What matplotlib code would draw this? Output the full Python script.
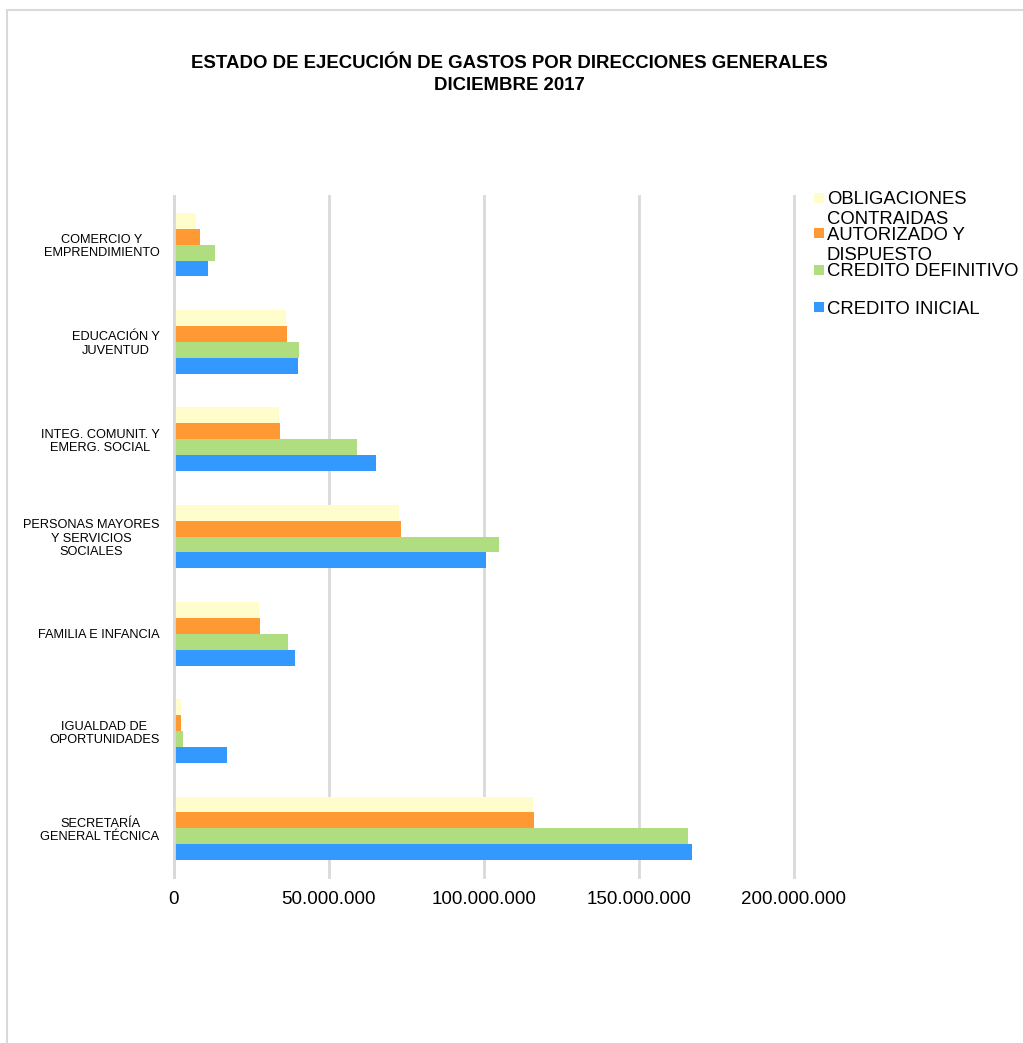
import matplotlib
matplotlib.use("Agg")
import matplotlib.pyplot as plt
from matplotlib.patches import Rectangle
from matplotlib.ticker import FuncFormatter, MultipleLocator
import numpy as np

plt.rcParams['font.family'] = ['Liberation Sans', 'DejaVu Sans']

# Direcciones generales (de abajo a arriba)
categorias = [
    "SECRETARÍA\nGENERAL TÉCNICA",
    "IGUALDAD DE\nOPORTUNIDADES",
    "FAMILIA E INFANCIA",
    "PERSONAS MAYORES\nY SERVICIOS\nSOCIALES",
    "INTEG. COMUNIT. Y\nEMERG. SOCIAL",
    "EDUCACIÓN Y\nJUVENTUD",
    "COMERCIO Y\nEMPRENDIMIENTO",
]

# Importes en euros
credito_inicial = [167.1e6, 17.3e6, 39.1e6, 100.6e6, 65.4e6, 40.2e6, 11.0e6]
credito_definitivo = [165.9e6, 3.0e6, 36.9e6, 104.9e6, 59.1e6, 40.4e6, 13.4e6]
autorizado_dispuesto = [116.1e6, 2.5e6, 27.9e6, 73.4e6, 34.3e6, 36.5e6, 8.4e6]
obligaciones_contraidas = [116.0e6, 2.5e6, 27.6e6, 72.7e6, 33.9e6, 36.3e6, 7.3e6]

series_nombres = ["CREDITO INICIAL", "CREDITO DEFINITIVO",
                  "AUTORIZADO Y\nDISPUESTO", "OBLIGACIONES\nCONTRAIDAS"]
series_valores = [credito_inicial, credito_definitivo,
                  autorizado_dispuesto, obligaciones_contraidas]
series_colores = ["#3399FF", "#B0DD80", "#FF9933", "#FFFDCC"]

W, H = 1023, 1043
fig = plt.figure(figsize=(W / 100, H / 100), dpi=100)
fig.patch.set_facecolor("white")

# Marco exterior del gráfico
fig.patches.append(Rectangle((7 / W, -0.05), 1.1, 1 - 10 / H + 0.05,
                             transform=fig.transFigure, fill=False,
                             edgecolor="#D9D9D9", linewidth=1.5))

ax = fig.add_axes([173.5 / W, 1 - 877 / H, (794 - 173.5) / W, (877 - 196) / H])

y = np.arange(len(categorias))
h = 0.163
offsets = [-1.5, -0.5, 0.5, 1.5]
for vals, col, off in zip(series_valores, series_colores, offsets):
    ax.barh(y + off * h, vals, height=h, color=col, zorder=3)

ax.set_xlim(0, 200e6)
ax.set_ylim(-0.5, len(categorias) - 0.5)
ax.xaxis.set_major_locator(MultipleLocator(50e6))
ax.xaxis.set_major_formatter(FuncFormatter(
    lambda v, p: "0" if v == 0 else f"{int(v):,}".replace(",", ".")))
ax.grid(axis="x", color="#D9D9D9", linewidth=2, zorder=0)
for gl in ax.xaxis.get_gridlines():
    gl.set_clip_on(False)
for s in ["top", "right", "bottom"]:
    ax.spines[s].set_visible(False)
ax.spines["left"].set_color("#D9D9D9")
ax.spines["left"].set_linewidth(2)
ax.spines["left"].set_zorder(4)

ax.set_yticks(y)
ax.set_yticklabels(categorias, fontsize=9.2, multialignment="center",
                   linespacing=1.15)
ax.tick_params(axis="y", length=0, pad=10)
ax.tick_params(axis="x", length=0, pad=10, labelsize=13.5)

fig.text(509 / W, 1 - 64 / H, "ESTADO DE EJECUCIÓN DE GASTOS POR DIRECCIONES GENERALES",
         ha="center", va="center", fontsize=13.4, fontweight="bold")
fig.text(509 / W, 1 - 86 / H, "DICIEMBRE 2017",
         ha="center", va="center", fontsize=13.4, fontweight="bold")

# Leyenda
leyenda_y = [307, 270, 233.5, 198]
for nombre, col, ly in zip(series_nombres, series_colores, leyenda_y):
    fig.patches.append(Rectangle((814 / W, 1 - (ly + 4.5) / H), 10 / W, 9.5 / H,
                                 transform=fig.transFigure, facecolor=col,
                                 edgecolor="none"))
    lineas = nombre.split("\n")
    for i, linea in enumerate(lineas):
        fig.text(827 / W, 1 - (ly + 6.5 + 20 * i) / H, linea, ha="left",
                 va="baseline", fontsize=13.3)

fig.savefig("out.png", dpi=100, facecolor="white")
